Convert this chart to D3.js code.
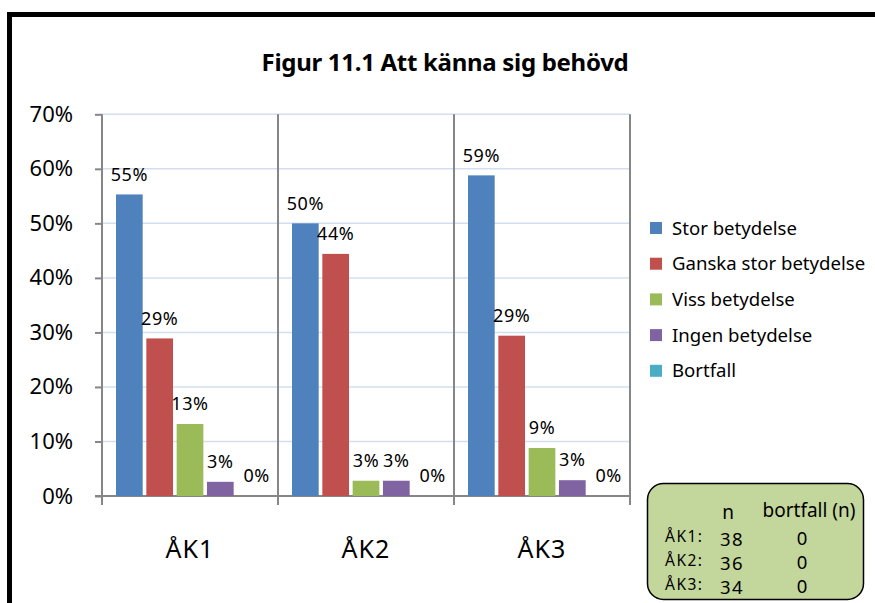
<!DOCTYPE html>
<html>
<head>
<meta charset="utf-8">
<style>
    body { margin: 0; background: #fff; }
    text { font-family: "Noto Sans", "Open Sans", sans-serif; fill: #000; }
</style>
</head>
<body>
<script src="https://d3js.org/d3.v7.min.js"></script>
<script>
    const width = 875;
    const height = 603;

    const categories = ["ÅK1", "ÅK2", "ÅK3"];
    const series = ["Stor betydelse", "Ganska stor betydelse", "Viss betydelse", "Ingen betydelse", "Bortfall"];
    const colors = ["#4f81bd", "#c0504d", "#9bbb59", "#8064a2", "#4bacc6"];
    // andel per årskurs, i samma ordning som series
    const values = [
        [0.553, 0.289, 0.132, 0.026, 0],
        [0.500, 0.444, 0.028, 0.028, 0],
        [0.588, 0.294, 0.088, 0.029, 0]
    ];
    const yTicks = [0, 0.1, 0.2, 0.3, 0.4, 0.5, 0.6, 0.7];
    const nRows = ["ÅK1:", "ÅK2:", "ÅK3:"];
    const nValues = [38, 36, 34];
    const bortfallValues = [0, 0, 0];

    const svg = d3.select("body").append("svg")
        .attr("width", width).attr("height", height);

    // ram
    svg.append("rect")
        .attr("x", 9.5).attr("y", 14.5)
        .attr("width", 900).attr("height", 700)
        .attr("fill", "none").attr("stroke", "#000").attr("stroke-width", 5);

    svg.append("text")
        .attr("x", 445).attr("y", 71)
        .attr("text-anchor", "middle")
        .attr("font-size", 24).attr("font-weight", "bold")
        .attr("letter-spacing", -0.3)
        .text("Figur 11.1 Att känna sig behövd");

    const x = d3.scaleBand().domain(categories).range([102, 630]);
    const y = d3.scaleLinear().domain([0, 0.7]).range([496, 114.3]);
    const inner = d3.scaleBand().domain(series).range([14, x.bandwidth() - 14]).paddingInner(0.12);

    // stödlinjer
    svg.append("g").selectAll("line").data(yTicks.slice(1)).join("line")
        .attr("x1", 102).attr("x2", 630)
        .attr("y1", d => y(d)).attr("y2", d => y(d))
        .attr("stroke", "#d3dff0").attr("stroke-width", 1.5);

    // kategoriavdelare
    svg.append("g").selectAll("line").data(categories).join("line")
        .attr("x1", d => x(d) + x.bandwidth()).attr("x2", d => x(d) + x.bandwidth())
        .attr("y1", y(0.7)).attr("y2", y(0) + 9)
        .attr("stroke", "#868686").attr("stroke-width", 2);

    const yAxis = svg.append("g")
        .attr("transform", "translate(102,0)")
        .call(d3.axisLeft(y).tickValues(yTicks).tickFormat(d3.format(".0%")).tickSize(7).tickPadding(22));
    yAxis.select(".domain").remove();
    yAxis.selectAll(".tick line").attr("stroke", "#868686").attr("stroke-width", 2);
    yAxis.selectAll(".tick text").attr("font-size", 22).attr("font-family", "Noto Sans").attr("fill", "#000");

    svg.append("line")
        .attr("x1", 102).attr("x2", 102).attr("y1", y(0.7)).attr("y2", y(0) + 9)
        .attr("stroke", "#868686").attr("stroke-width", 2);
    svg.append("line")
        .attr("x1", 95).attr("x2", 630).attr("y1", y(0)).attr("y2", y(0))
        .attr("stroke", "#868686").attr("stroke-width", 2);

    const groups = svg.append("g").selectAll("g").data(values).join("g")
        .attr("transform", (d, i) => `translate(${x(categories[i])},0)`);

    groups.selectAll("rect").data(d => d).join("rect")
        .attr("x", (d, j) => inner(series[j]))
        .attr("y", d => y(d))
        .attr("width", inner.bandwidth())
        .attr("height", d => y(0) - y(d))
        .attr("fill", (d, j) => colors[j]);

    groups.selectAll("text").data(d => d).join("text")
        .attr("x", (d, j) => inner(series[j]) + inner.bandwidth() / 2 + (d === 0 ? 6 : 0))
        .attr("y", d => y(d) - 20)
        .attr("dy", "0.35em")
        .attr("text-anchor", "middle")
        .attr("font-size", 18)
        .attr("letter-spacing", 0.6)
        .text(d => d3.format(".0%")(d));

    svg.append("g").selectAll("text").data(categories).join("text")
        .attr("x", d => x(d) + x.bandwidth() / 2)
        .attr("y", 549).attr("dy", "0.35em")
        .attr("text-anchor", "middle")
        .attr("font-size", 25)
        .attr("letter-spacing", 1)
        .text(d => d);

    // förklaring
    const legend = svg.append("g").selectAll("g").data(series).join("g")
        .attr("transform", (d, i) => `translate(650,${228 + i * 35.7})`);
    legend.append("rect")
        .attr("x", 0).attr("y", -6).attr("width", 12).attr("height", 12)
        .attr("fill", (d, i) => colors[i]);
    legend.append("text")
        .attr("x", 22).attr("dy", "0.35em")
        .attr("font-size", 18.6)
        .text(d => d);

    // n-ruta
    svg.append("rect")
        .attr("x", 647.5).attr("y", 483.5).attr("width", 216).attr("height", 116)
        .attr("rx", 16).attr("ry", 16)
        .attr("fill", "#c3d69b").attr("stroke", "#000").attr("stroke-width", 1.5);
    svg.append("text").attr("x", 728).attr("y", 512).attr("dy", "0.35em")
        .attr("text-anchor", "middle").attr("font-size", 19).text("n");
    svg.append("text").attr("x", 809).attr("y", 510).attr("dy", "0.35em")
        .attr("text-anchor", "middle").attr("font-size", 19).text("bortfall (n)");

    const rowY = [539, 563, 587];
    svg.append("g").selectAll("text").data(nRows).join("text")
        .attr("x", 665).attr("y", (d, i) => rowY[i] - 2).attr("dy", "0.35em")
        .attr("font-size", 15.5).attr("letter-spacing", 1.5).text(d => d);
    svg.append("g").selectAll("text").data(nValues).join("text")
        .attr("x", 732).attr("y", (d, i) => rowY[i] + 1).attr("dy", "0.35em")
        .attr("text-anchor", "middle").attr("font-size", 18.5).attr("letter-spacing", 1.5).text(d => d);
    svg.append("g").selectAll("text").data(bortfallValues).join("text")
        .attr("x", 802).attr("y", (d, i) => rowY[i]).attr("dy", "0.35em")
        .attr("text-anchor", "middle").attr("font-size", 18.5).text(d => d);
</script>
</body>
</html>
